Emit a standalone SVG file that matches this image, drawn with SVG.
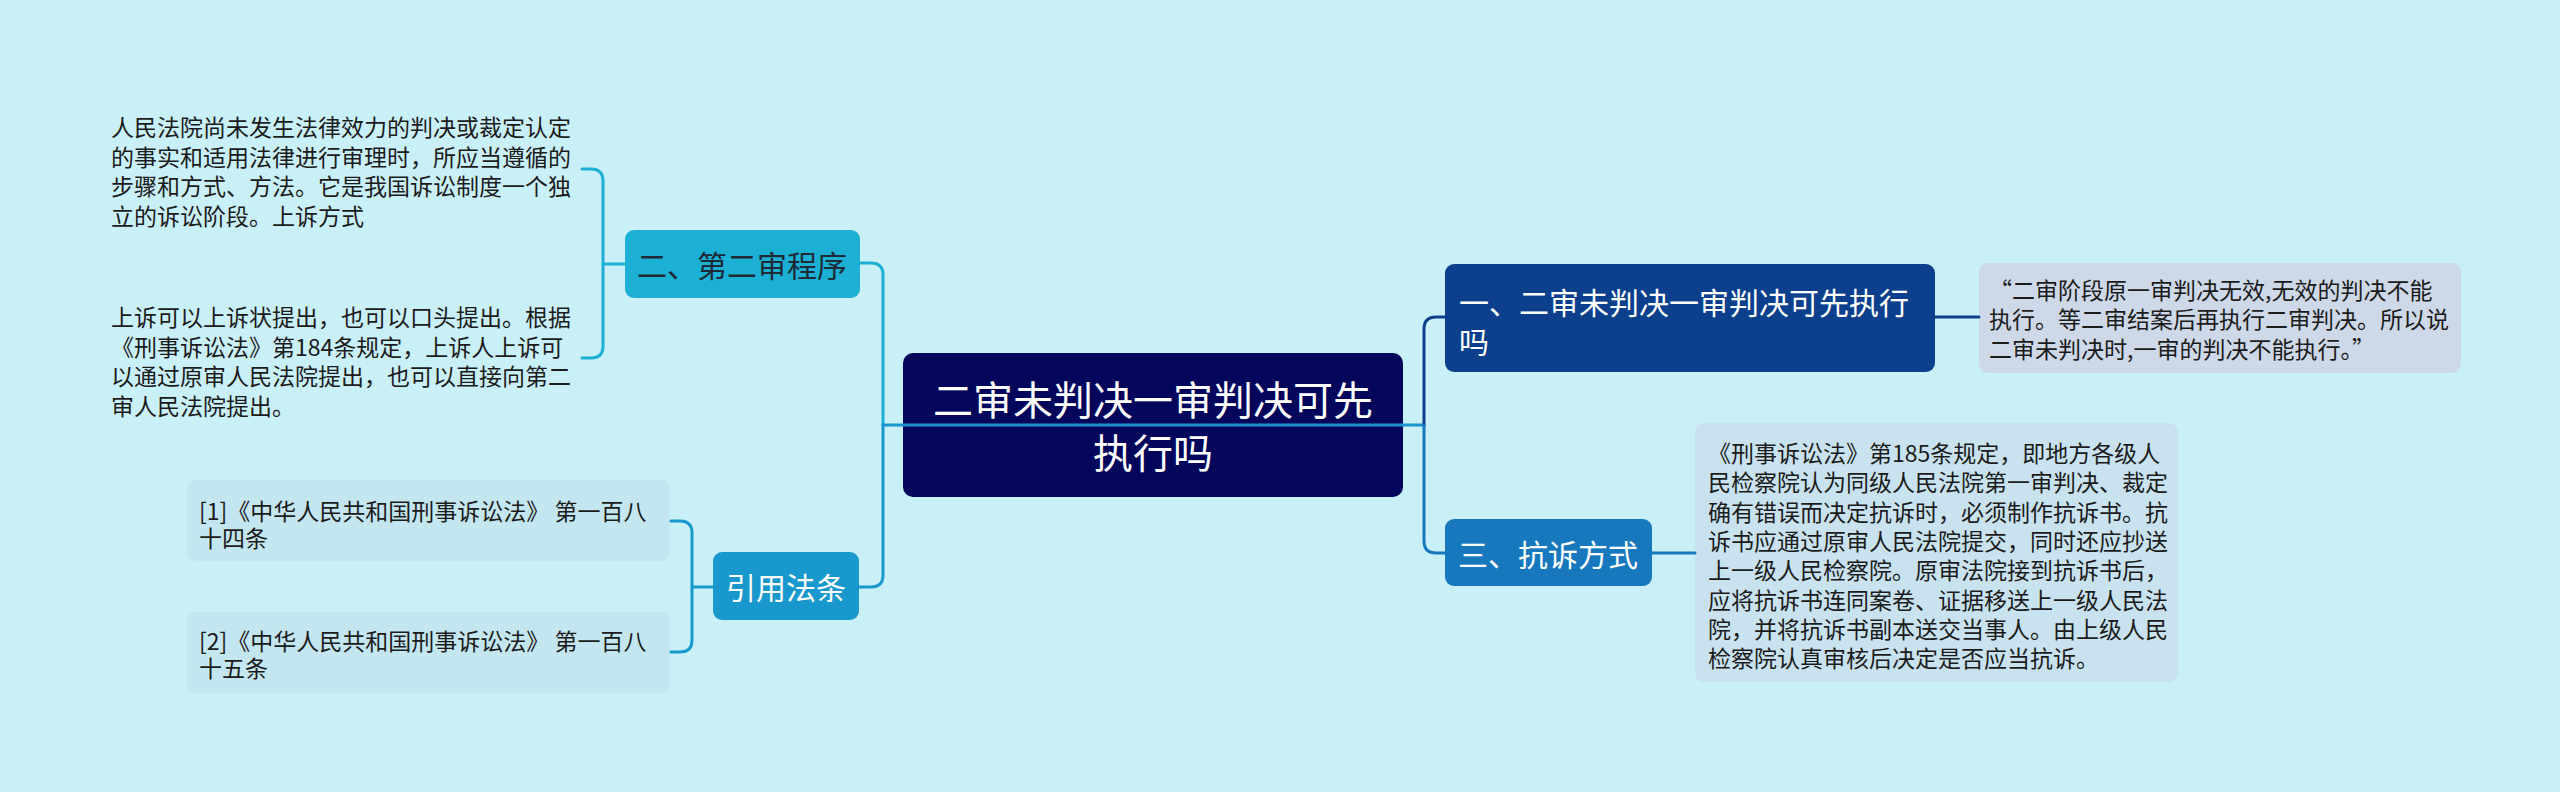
<svg xmlns="http://www.w3.org/2000/svg" width="2560" height="792" viewBox="0 0 2560 792">
<style>
text{font-family:"Noto Sans CJK SC","Noto Sans",sans-serif;dominant-baseline:central}
.leaf{font-size:23px;fill:#1b1b1b}
.mid{font-size:30px;text-anchor:middle}
.conn{fill:none;stroke-width:3;stroke-linecap:round}
</style>
<rect width="2560" height="792" fill="#c9eff7"/>
<g id="root">
<rect x="903" y="353" width="500" height="144" rx="10" fill="#03065a"/>
<text x="1153" y="398" font-size="40" text-anchor="middle" fill="#ffffff">二审未判决一审判决可先</text>
<text x="1153" y="451" font-size="40" text-anchor="middle" fill="#ffffff">执行吗</text>
</g>
<g id="n-second">
<rect x="625" y="230" width="235" height="68" rx="9" fill="#1cb0d4"/>
<text class="mid" x="742" y="264" fill="#1e2b36">二、第二审程序</text>
</g>
<g id="n-second-t1">
<text class="leaf" x="111" y="126">人民法院尚未发生法律效力的判决或裁定认定</text>
<text class="leaf" x="111" y="155.5">的事实和适用法律进行审理时，所应当遵循的</text>
<text class="leaf" x="111" y="185">步骤和方式、方法。它是我国诉讼制度一个独</text>
<text class="leaf" x="111" y="214.5">立的诉讼阶段。上诉方式</text>
</g>
<g id="n-second-t2">
<text class="leaf" x="111" y="316">上诉可以上诉状提出，也可以口头提出。根据</text>
<text class="leaf" x="111" y="345.5">《刑事诉讼法》第184条规定，上诉人上诉可</text>
<text class="leaf" x="111" y="375">以通过原审人民法院提出，也可以直接向第二</text>
<text class="leaf" x="111" y="404.5">审人民法院提出。</text>
</g>
<g id="n-refs">
<rect x="713" y="552" width="146" height="68" rx="9" fill="#1898cc"/>
<text class="mid" x="786" y="586" fill="#ffffff">引用法条</text>
</g>
<g id="n-ref1">
<rect x="187" y="480" width="483" height="81" rx="9" fill="#c3e6f0"/>
<text class="leaf" x="199" y="510">[1]《中华人民共和国刑事诉讼法》 第一百八</text>
<text class="leaf" x="199" y="537">十四条</text>
</g>
<g id="n-ref2">
<rect x="187" y="612" width="483" height="81" rx="9" fill="#c3e6f0"/>
<text class="leaf" x="199" y="640">[2]《中华人民共和国刑事诉讼法》 第一百八</text>
<text class="leaf" x="199" y="667">十五条</text>
</g>
<g id="n-first">
<rect x="1445" y="264" width="490" height="108" rx="9" fill="#0c3f8c"/>
<text x="1459" y="301" font-size="30" fill="#ffffff">一、二审未判决一审判决可先执行</text>
<text x="1459" y="340" font-size="30" fill="#ffffff">吗</text>
</g>
<g id="n-first-t">
<rect x="1979" y="263" width="482" height="110" rx="9" fill="#cdd8e8"/>
<text class="leaf" x="1989" y="288.5">“二审阶段原一审判决无效,无效的判决不能</text>
<text class="leaf" x="1989" y="318">执行。等二审结案后再执行二审判决。所以说</text>
<text class="leaf" x="1989" y="347.5">二审未判决时,一审的判决不能执行。”</text>
</g>
<g id="n-third">
<rect x="1445" y="519" width="207" height="67" rx="9" fill="#1778bd"/>
<text class="mid" x="1548" y="553" fill="#ffffff">三、抗诉方式</text>
</g>
<g id="n-third-t">
<rect x="1695" y="423" width="483" height="259" rx="9" fill="#c8e3ef"/>
<text class="leaf" x="1708" y="452">《刑事诉讼法》第185条规定，即地方各级人</text>
<text class="leaf" x="1708" y="481.3">民检察院认为同级人民法院第一审判决、裁定</text>
<text class="leaf" x="1708" y="510.6">确有错误而决定抗诉时，必须制作抗诉书。抗</text>
<text class="leaf" x="1708" y="539.9">诉书应通过原审人民法院提交，同时还应抄送</text>
<text class="leaf" x="1708" y="569.2">上一级人民检察院。原审法院接到抗诉书后，</text>
<text class="leaf" x="1708" y="598.5">应将抗诉书连同案卷、证据移送上一级人民法</text>
<text class="leaf" x="1708" y="627.8">院，并将抗诉书副本送交当事人。由上级人民</text>
<text class="leaf" x="1708" y="657.1">检察院认真审核后决定是否应当抗诉。</text>
</g>
<g id="connectors">
<path class="conn" stroke="#1cb0d4" d="M883,425 V275 Q883,263 871,263 H860"/>
<path class="conn" stroke="#1898cc" d="M883,425 V575 Q883,587 871,587 H859"/>
<path class="conn" stroke="#1c93cc" d="M883,425 H1424"/>
<path class="conn" stroke="#0c3f8c" d="M1424,425 V329 Q1424,317 1436,317 H1445"/>
<path class="conn" stroke="#1778bd" d="M1424,425 V541 Q1424,553 1436,553 H1445"/>
<path class="conn" stroke="#1cb0d4" d="M625,264 H603"/>
<path class="conn" stroke="#1cb0d4" d="M582,169 H591 Q603,169 603,181 V346 Q603,358 591,358 H582"/>
<path class="conn" stroke="#1898cc" d="M713,587 H692"/>
<path class="conn" stroke="#1898cc" d="M671,521 H680 Q692,521 692,533 V640 Q692,652 680,652 H671"/>
<path class="conn" stroke="#0c3f8c" d="M1935,317 H1979"/>
<path class="conn" stroke="#1778bd" d="M1652,553 H1695"/>
</g>
</svg>
